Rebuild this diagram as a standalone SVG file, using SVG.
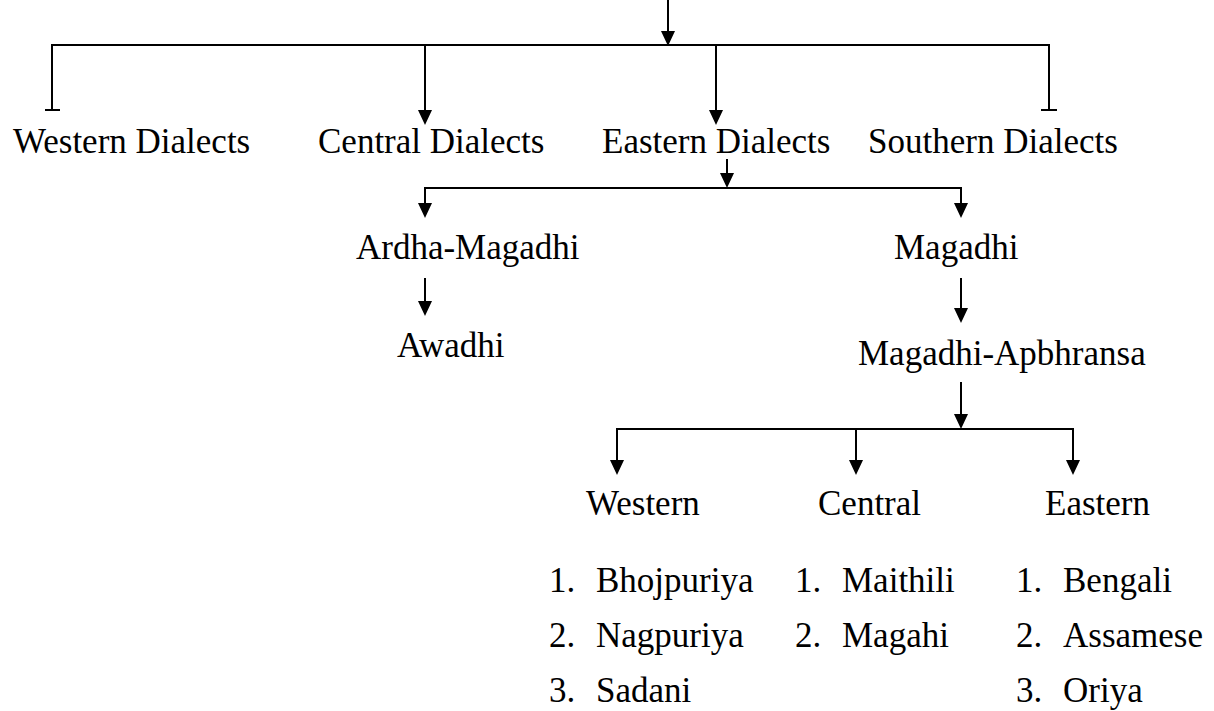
<svg xmlns="http://www.w3.org/2000/svg" xmlns:xlink="http://www.w3.org/1999/xlink" width="1214" height="711" viewBox="0 0 1214 711">
<style>
  text { font-family: "Liberation Serif", "Times New Roman", serif; font-size: 35px; fill: #000; }
  .ln { stroke: #000; stroke-width: 2; fill: none; }
  .ah { fill: #000; }
</style>
<defs>
  <path id="ah" class="ah" d="M-7,-15 L7,-15 L0,0 Z"/>
</defs>
<rect width="1214" height="711" fill="#fff"/>
<g id="connectors">
  <!-- top -->
  <path class="ln" d="M668,0 V40"/>
  <use xlink:href="#ah" x="668" y="46"/>
  <path class="ln" d="M52,110 V45 H1049 V110"/>
  <path class="ln" d="M45,110 H60 M1041,110 H1057"/>
  <path class="ln" d="M425,45 V118"/>
  <use xlink:href="#ah" x="425" y="125"/>
  <path class="ln" d="M716,45 V118"/>
  <use xlink:href="#ah" x="716" y="125"/>
  <!-- eastern split -->
  <path class="ln" d="M727,159 V182"/>
  <use xlink:href="#ah" x="727" y="188"/>
  <path class="ln" d="M425,211 V188 H961 V211"/>
  <use xlink:href="#ah" x="425" y="218"/>
  <use xlink:href="#ah" x="961" y="218"/>
  <!-- ardha to awadhi -->
  <path class="ln" d="M425,278 V309"/>
  <use xlink:href="#ah" x="425" y="316"/>
  <!-- magadhi to apbhransa -->
  <path class="ln" d="M961,278 V316"/>
  <use xlink:href="#ah" x="961" y="323"/>
  <!-- apbhransa split -->
  <path class="ln" d="M961,382 V422"/>
  <use xlink:href="#ah" x="961" y="429"/>
  <path class="ln" d="M617,468 V429 H1073 V468"/>
  <path class="ln" d="M856,429 V468"/>
  <use xlink:href="#ah" x="617" y="475"/>
  <use xlink:href="#ah" x="856" y="475"/>
  <use xlink:href="#ah" x="1073" y="475"/>
</g>
<g id="western-dialects"><text x="13" y="153">Western Dialects</text></g>
<g id="central-dialects"><text x="318" y="153">Central Dialects</text></g>
<g id="eastern-dialects"><text x="602" y="153">Eastern Dialects</text></g>
<g id="southern-dialects"><text x="868" y="153">Southern Dialects</text></g>
<g id="ardha-magadhi"><text x="356" y="259">Ardha-Magadhi</text></g>
<g id="magadhi"><text x="894" y="259">Magadhi</text></g>
<g id="awadhi"><text x="397" y="357">Awadhi</text></g>
<g id="magadhi-apbhransa"><text x="858" y="365">Magadhi-Apbhransa</text></g>
<g id="western">
  <text x="586" y="515">Western</text>
  <text y="592"><tspan x="549">1.</tspan><tspan x="596">Bhojpuriya</tspan></text>
  <text y="647"><tspan x="549">2.</tspan><tspan x="596">Nagpuriya</tspan></text>
  <text y="702"><tspan x="549">3.</tspan><tspan x="596">Sadani</tspan></text>
</g>
<g id="central">
  <text x="818" y="515">Central</text>
  <text y="592"><tspan x="795">1.</tspan><tspan x="842">Maithili</tspan></text>
  <text y="647"><tspan x="795">2.</tspan><tspan x="842">Magahi</tspan></text>
</g>
<g id="eastern">
  <text x="1045" y="515">Eastern</text>
  <text y="592"><tspan x="1016">1.</tspan><tspan x="1063">Bengali</tspan></text>
  <text y="647"><tspan x="1016">2.</tspan><tspan x="1063">Assamese</tspan></text>
  <text y="702"><tspan x="1016">3.</tspan><tspan x="1063">Oriya</tspan></text>
</g>
</svg>
